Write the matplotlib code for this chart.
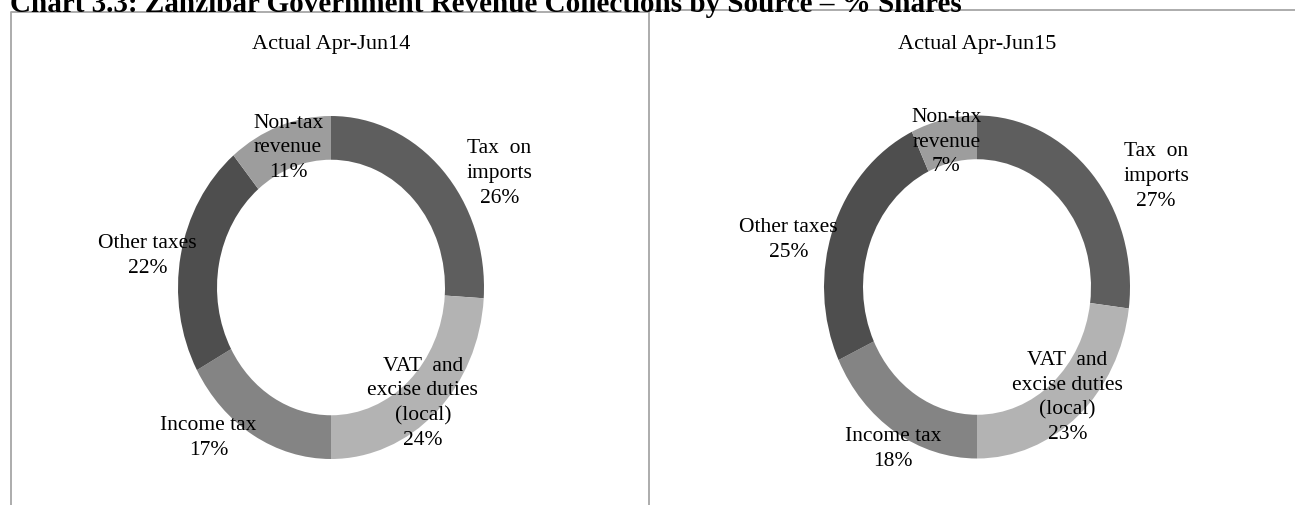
import matplotlib.pyplot as plt
from matplotlib.lines import Line2D

# data
sources = ['Tax  on\nimports', 'VAT  and\nexcise duties\n(local)', 'Income tax',
           'Other taxes', 'Non-tax\nrevenue']
share_14 = [26, 24, 17, 22, 11]
share_15 = [27, 23, 18, 25, 7]
panel_titles = ['Actual Apr-Jun14', 'Actual Apr-Jun15']
chart_title = 'Chart 3.3: Zanzibar Government Revenue Collections by Source \u2013 % Shares'

colors = ['#5e5e5e', '#b3b3b3', '#848484', '#4e4e4e', '#9d9d9d']

# label centres, in units of the ring radius
lab_14 = [(1.10, 0.67), (0.60, -0.67), (-0.80, -0.87), (-1.20, 0.19), (-0.28, 0.82)]
lab_15 = [(1.17, 0.65), (0.59, -0.64), (-0.55, -0.94), (-1.23, 0.28), (-0.20, 0.85)]

W, H = 1295, 506
fig = plt.figure(figsize=(W / 100, H / 100), dpi=100)
plt.rcParams['font.family'] = ['Liberation Serif', 'DejaVu Serif']


def px_line(xs, ys):
    # pixel coords from top-left
    fig.add_artist(Line2D([x / W for x in xs], [1 - y / H for y in ys],
                          transform=fig.transFigure, color='#a6a6a6', lw=1.3))


px_line([11, 11, 649, 649], [H, 13, 13, H])
px_line([649, W], [11, 11])

# top of the heading is cut off in the original scan
fig.text(10 / W, 1 - 12 / H, chart_title, fontsize=21, fontweight='bold',
         ha='left', va='baseline')

L = 1.4
rx, ry = 153, 171.5
for cx, cy, vals, labs, title in [(331, 288.5, share_14, lab_14, panel_titles[0]),
                                  (977, 288, share_15, lab_15, panel_titles[1])]:
    ax = fig.add_axes([(cx - L * rx) / W, (H - cy - L * ry) / H,
                       2 * L * rx / W, 2 * L * ry / H])
    ax.pie(vals, colors=colors, startangle=90, counterclock=False,
           wedgeprops=dict(width=0.255, edgecolor='none'))
    ax.set_aspect('auto')
    ax.set_xlim(-L, L)
    ax.set_ylim(-L, L)
    ax.axis('off')
    for name, v, (x, y) in zip(sources, vals, labs):
        ax.text(x, y, f'{name}\n{v}%', ha='center', va='center', fontsize=15.5,
                linespacing=1.4)
    ax.text(0, 1.42, title, ha='center', va='center', fontsize=16)

fig.savefig('out.png', dpi=100)
